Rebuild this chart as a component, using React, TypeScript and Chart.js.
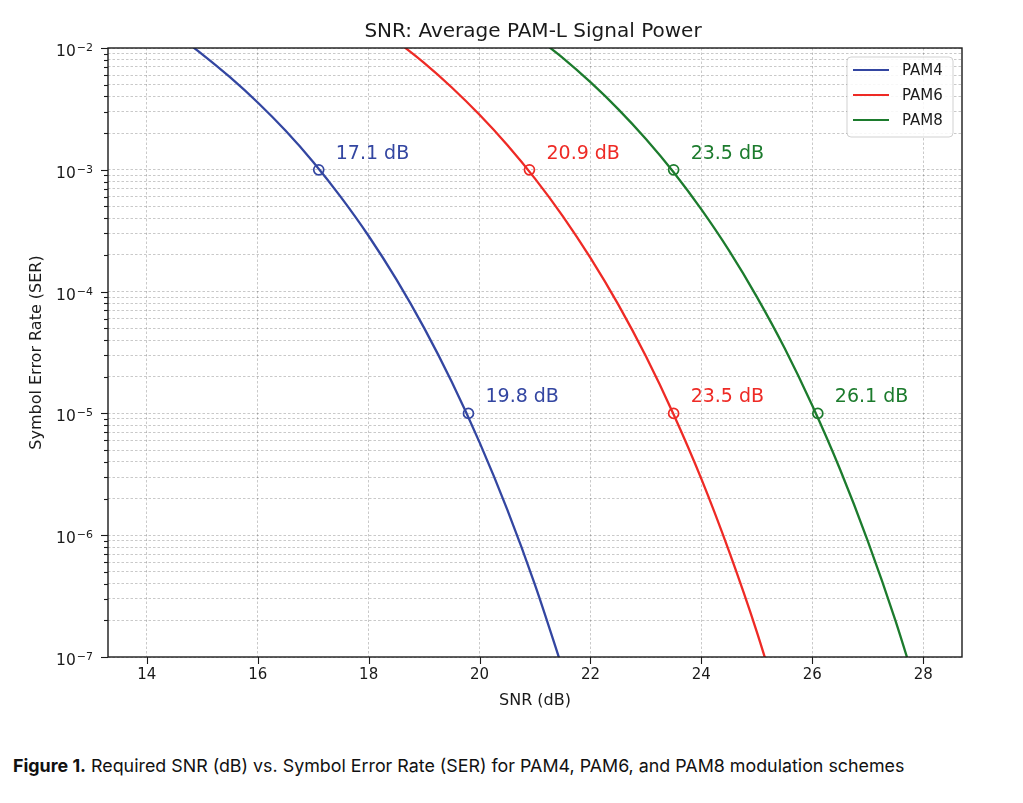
import React, { useEffect, useRef } from "react";
import { Chart, registerables } from "chart.js";

Chart.register(...registerables);

// ---- data ----
const pam4SNR = [14.5, 15, 15.5, 16, 16.5, 17, 17.5, 18, 18.5, 19, 19.5, 20, 20.5, 21, 21.5];
const pam4SER = [1.32e-2, 8.88e-3, 5.76e-3, 3.57e-3, 2.1e-3, 1.16e-3, 5.96e-4, 2.86e-4, 1.26e-4, 5.04e-5, 1.81e-5, 5.78e-6, 1.62e-6, 3.91e-7, 7.96e-8];

const pam6SNR = [18, 18.5, 19, 19.5, 20, 20.5, 21, 21.5, 22, 22.5, 23, 23.5, 24, 24.5, 25, 25.5];
const pam6SER = [1.66e-2, 1.14e-2, 7.55e-3, 4.74e-3, 2.83e-3, 1.6e-3, 8.47e-4, 4.17e-4, 1.89e-4, 7.85e-5, 2.94e-5, 9.8e-6, 2.9e-6, 7.36e-7, 1.61e-7, 2.89e-8];

const pam8SNR = [21, 21.5, 22, 22.5, 23, 23.5, 24, 24.5, 25, 25.5, 26, 26.5, 27, 27.5, 28];
const pam8SER = [1.25e-2, 8.3e-3, 5.24e-3, 3.15e-3, 1.79e-3, 9.55e-4, 4.73e-4, 2.17e-4, 9.06e-5, 3.44e-5, 1.16e-5, 3.48e-6, 9.0e-7, 1.99e-7, 3.66e-8];

const markerSER = [1e-3, 1e-5];
const pam4MarkerSNR = [17.1, 19.8];
const pam6MarkerSNR = [20.9, 23.5];
const pam8MarkerSNR = [23.5, 26.1];

const seriesLabels = ["PAM4", "PAM6", "PAM8"];
const seriesColors = ["#3346a1", "#ee2a25", "#1c7b2d"];

const xTicks = [14, 16, 18, 20, 22, 24, 26, 28];
const xMin = 13.3;
const xMax = 28.7;
const yDecades = [-7, -6, -5, -4, -3, -2];

const chartTitle = "SNR: Average PAM-L Signal Power";
const xTitle = "SNR (dB)";
const yTitle = "Symbol Error Rate (SER)";
const captionBold = "Figure 1.";
const captionText = " Required SNR (dB) vs. Symbol Error Rate (SER) for PAM4, PAM6, and PAM8 modulation schemes";

const FONT = "'DejaVu Sans', sans-serif";

const isMajor = (v: number) => {
  const l = Math.log10(v);
  return Math.abs(l - Math.round(l)) < 1e-9;
};

const yTickValues: number[] = [];
yDecades.forEach((d, i) => {
  if (i === yDecades.length - 1) {
    yTickValues.push(Math.pow(10, d));
  } else {
    for (let m = 1; m <= 9; m++) yTickValues.push(m * Math.pow(10, d));
  }
});

const toPts = (xs: number[], ys: number[]) => xs.map((x, i) => ({ x, y: ys[i] }));

const overlayPlugin = {
  id: "overlay",
  afterDraw(chart: any) {
    const { ctx, chartArea, scales } = chart;
    const xs = scales.x;
    const ys = scales.y;
    ctx.save();

    // frame
    ctx.strokeStyle = "#1a1a1a";
    ctx.lineWidth = 1.4;
    ctx.strokeRect(chartArea.left, chartArea.top, chartArea.right - chartArea.left, chartArea.bottom - chartArea.top);

    // y tick marks + labels (10 with raised exponent)
    ctx.lineWidth = 1.1;
    yTickValues.forEach((v) => {
      const py = Math.round(ys.getPixelForValue(v)) + 0.5;
      const major = isMajor(v);
      const len = major ? 7 : 4;
      ctx.beginPath();
      ctx.moveTo(chartArea.left, py);
      ctx.lineTo(chartArea.left - len, py);
      ctx.stroke();
      if (major) {
        const exp = "\u2212" + String(Math.abs(Math.round(Math.log10(v))));
        ctx.fillStyle = "#1a1a1a";
        ctx.textBaseline = "alphabetic";
        ctx.textAlign = "right";
        ctx.font = `11px ${FONT}`;
        const right = chartArea.left - 15;
        const ew = ctx.measureText(exp).width;
        ctx.fillText(exp, right, py + 2);
        ctx.font = `15.5px ${FONT}`;
        ctx.fillText("10", right - ew - 1, py + 7.5);
      }
    });
    // x tick marks
    xTicks.forEach((v) => {
      const px = Math.round(xs.getPixelForValue(v)) + 0.5;
      ctx.beginPath();
      ctx.moveTo(px, chartArea.bottom);
      ctx.lineTo(px, chartArea.bottom + 7);
      ctx.stroke();
    });

    // title
    ctx.fillStyle = "#1a1a1a";
    ctx.font = `20px ${FONT}`;
    ctx.textAlign = "center";
    ctx.textBaseline = "middle";
    ctx.fillText(chartTitle, (chartArea.left + chartArea.right) / 2 - 2, chartArea.top - 16);

    // annotations
    const groups = [pam4MarkerSNR, pam6MarkerSNR, pam8MarkerSNR];
    ctx.font = `19px ${FONT}`;
    ctx.textAlign = "left";
    ctx.textBaseline = "alphabetic";
    groups.forEach((snrs, gi) => {
      ctx.fillStyle = seriesColors[gi];
      snrs.forEach((snr, i) => {
        const px = xs.getPixelForValue(snr);
        const py = ys.getPixelForValue(markerSER[i]);
        ctx.fillText(`${snr.toFixed(1)} dB`, px + 17, py - 11);
      });
    });

    // legend
    const bw = 106, bh = 80;
    const bx = chartArea.right - 9 - bw;
    const by = chartArea.top + 9;
    ctx.beginPath();
    const r = 4;
    ctx.moveTo(bx + r, by);
    ctx.arcTo(bx + bw, by, bx + bw, by + bh, r);
    ctx.arcTo(bx + bw, by + bh, bx, by + bh, r);
    ctx.arcTo(bx, by + bh, bx, by, r);
    ctx.arcTo(bx, by, bx + bw, by, r);
    ctx.closePath();
    ctx.fillStyle = "rgba(255,255,255,0.85)";
    ctx.fill();
    ctx.strokeStyle = "rgba(0,0,0,0.18)";
    ctx.lineWidth = 1;
    ctx.stroke();
    ctx.font = `15px ${FONT}`;
    ctx.textBaseline = "middle";
    seriesLabels.forEach((lab, i) => {
      const cy = by + 13 + i * 25;
      ctx.strokeStyle = seriesColors[i];
      ctx.lineWidth = 2.2;
      ctx.beginPath();
      ctx.moveTo(bx + 6, cy);
      ctx.lineTo(bx + 42, cy);
      ctx.stroke();
      ctx.fillStyle = "#1a1a1a";
      ctx.fillText(lab, bx + 55, cy + 1);
    });

    ctx.restore();
  },
};

export default function App() {
  const ref = useRef<HTMLCanvasElement | null>(null);

  useEffect(() => {
    if (!ref.current) return;
    const curves = [
      toPts(pam4SNR, pam4SER),
      toPts(pam6SNR, pam6SER),
      toPts(pam8SNR, pam8SER),
    ];
    const markers = [
      toPts(pam4MarkerSNR, markerSER),
      toPts(pam6MarkerSNR, markerSER),
      toPts(pam8MarkerSNR, markerSER),
    ];
    const datasets: any[] = [];
    curves.forEach((d, i) => {
      datasets.push({
        label: seriesLabels[i],
        data: d,
        borderColor: seriesColors[i],
        backgroundColor: seriesColors[i],
        borderWidth: 2.3,
        pointRadius: 0,
        cubicInterpolationMode: "monotone",
        fill: false,
      });
    });
    markers.forEach((d, i) => {
      datasets.push({
        label: seriesLabels[i] + " marker",
        data: d,
        showLine: false,
        pointStyle: "circle",
        pointRadius: 5,
        pointBorderWidth: 1.7,
        pointBorderColor: seriesColors[i],
        pointBackgroundColor: "rgba(0,0,0,0)",
        borderColor: seriesColors[i],
        clip: false,
      });
    });

    const chart = new Chart(ref.current, {
      type: "line",
      data: { datasets },
      options: {
        animation: false,
        responsive: false,
        devicePixelRatio: 1,
        layout: { padding: { top: 40, right: 53, left: 0, bottom: 0 } },
        plugins: {
          legend: { display: false },
          title: { display: false },
          tooltip: { enabled: false },
        },
        scales: {
          x: {
            type: "linear",
            min: xMin,
            max: xMax,
            afterBuildTicks: (s: any) => {
              s.ticks = xTicks.map((v) => ({ value: v }));
            },
            afterFit: (s: any) => {
              s.height = 66;
            },
            ticks: {
              font: { family: FONT, size: 15 },
              color: "#1a1a1a",
              padding: 9,
              maxRotation: 0,
              autoSkip: false,
            },
            grid: {
              color: "rgba(0,0,0,0.24)",
              lineWidth: 0.9,
              drawTicks: false,
            },
            border: { display: false, dash: [2.5, 2] },
            title: {
              display: true,
              text: xTitle,
              font: { family: FONT, size: 16 },
              color: "#1a1a1a",
              padding: { top: 4, bottom: 13 },
            },
          },
          y: {
            type: "logarithmic",
            min: 1e-7,
            max: 1e-2,
            afterBuildTicks: (s: any) => {
              s.ticks = yTickValues.map((v) => ({ value: v, major: isMajor(v) }));
            },
            afterFit: (s: any) => {
              s.width = 100;
            },
            ticks: {
              autoSkip: false,
              font: { family: FONT, size: 15 },
              color: "#1a1a1a",
              padding: 15,
              callback: () => "",
            },
            grid: {
              color: "rgba(0,0,0,0.24)",
              lineWidth: 0.9,
              drawTicks: false,
            },
            border: { display: false, dash: [2.5, 2] },
            title: {
              display: true,
              text: yTitle,
              font: { family: FONT, size: 16 },
              color: "#1a1a1a",
              padding: { top: 19, bottom: 0 },
            },
          },
        },
      },
      plugins: [overlayPlugin],
    } as any);
    return () => chart.destroy();
  }, []);

  return (
    <div>
      <canvas ref={ref} width={1007} height={715} style={{ display: "block" }} />
      <div
        style={{
          position: "absolute",
          left: 13,
          top: 755,
          fontFamily: "Inter, sans-serif",
          fontSize: 17.85,
          lineHeight: "22px",
          color: "#111",
          whiteSpace: "nowrap",
        }}
      >
        <b>{captionBold}</b>
        {captionText}
      </div>
    </div>
  );
}
